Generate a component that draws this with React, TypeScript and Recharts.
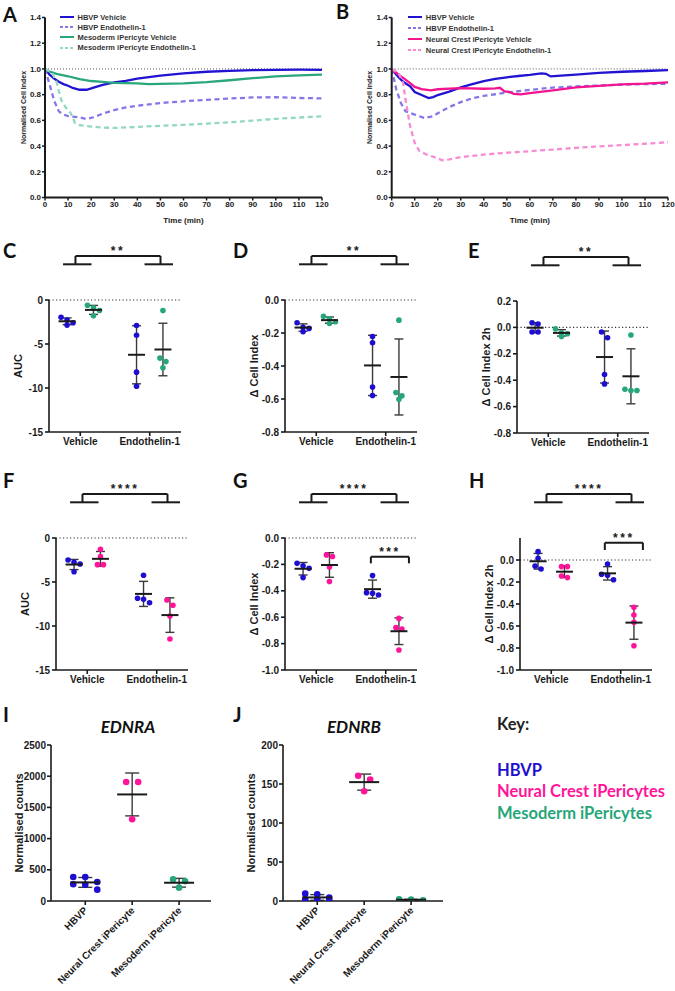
import React from "react";
import {
  LineChart,
  Line,
  ScatterChart,
  Scatter,
  XAxis,
  YAxis,
  ReferenceLine,
  ErrorBar,
  Legend,
} from "recharts";

const BLUE = "#1e0fd0";
const PINK = "#ff149a";
const GREEN = "#27a67a";
const HBVP_LINE = "#2213d2";
const HBVP_DASH = "#8577e8";
const MESO_LINE = "#2aa87c";
const MESO_DASH = "#93d8c0";
const NC_LINE = "#f2158f";
const NC_DASH = "#f78bd4";
const INK = "#1a1a1a";
const AXIS_FONT = "'Liberation Sans', Arial, sans-serif";
const TITLE_FONT = "Lato, 'Open Sans', sans-serif";

// time course axes
const TIME_TICKS = [0, 10, 20, 30, 40, 50, 60, 70, 80, 90, 100, 110, 120];
const INDEX_TICKS = [0, 0.2, 0.4, 0.6, 0.8, 1.0, 1.2, 1.4];

// panel A: [minutes, normalised cell index]
const A_HBVP_VEH: [number, number][] = [
  [0, 1], [2, 0.955], [4, 0.925], [6, 0.9], [8, 0.882], [10, 0.869], [12, 0.852], [15, 0.838],
  [18, 0.838], [20, 0.848], [25, 0.876], [30, 0.895], [35, 0.907], [40, 0.925], [45, 0.937],
  [50, 0.948], [60, 0.966], [70, 0.978], [80, 0.985], [90, 0.99], [100, 0.992], [110, 0.994], [120, 0.993],
];
const A_HBVP_ET1: [number, number][] = [
  [0, 1], [2, 0.88], [4, 0.75], [6, 0.67], [8, 0.645], [10, 0.633], [14, 0.626], [18, 0.611],
  [21, 0.624], [25, 0.652], [30, 0.68], [35, 0.7], [40, 0.714], [50, 0.735], [60, 0.748],
  [70, 0.76], [80, 0.77], [90, 0.778], [100, 0.78], [110, 0.774], [120, 0.771],
];
const A_MESO_VEH: [number, number][] = [
  [0, 1], [2, 0.98], [5, 0.962], [10, 0.943], [15, 0.92], [20, 0.906], [25, 0.9], [30, 0.892],
  [40, 0.887], [45, 0.882], [50, 0.884], [60, 0.888], [70, 0.898], [80, 0.912], [90, 0.928],
  [100, 0.942], [110, 0.95], [120, 0.956],
];
const A_MESO_ET1: [number, number][] = [
  [0, 1], [3, 0.97], [5, 0.9], [7, 0.76], [9, 0.7], [11, 0.66], [13, 0.58], [15, 0.562],
  [20, 0.552], [25, 0.544], [30, 0.541], [40, 0.549], [50, 0.558], [60, 0.565], [70, 0.575],
  [80, 0.585], [90, 0.598], [100, 0.612], [110, 0.622], [120, 0.632],
];

// panel B
const B_HBVP_VEH: [number, number][] = [
  [0, 1], [3, 0.935], [5, 0.9], [8, 0.865], [10, 0.82], [13, 0.797], [16, 0.773], [18, 0.781],
  [20, 0.797], [25, 0.823], [30, 0.857], [35, 0.882], [40, 0.905], [45, 0.922], [50, 0.935],
  [55, 0.945], [60, 0.953], [65, 0.965], [67, 0.962], [69, 0.942], [72, 0.946], [80, 0.956],
  [90, 0.97], [100, 0.978], [110, 0.984], [120, 0.99],
];
const B_HBVP_ET1: [number, number][] = [
  [0, 1], [2, 0.84], [4, 0.735], [6, 0.67], [10, 0.645], [14, 0.619], [18, 0.632], [20, 0.655],
  [25, 0.703], [30, 0.742], [35, 0.772], [40, 0.79], [45, 0.803], [50, 0.816], [60, 0.837],
  [70, 0.855], [80, 0.864], [90, 0.871], [100, 0.878], [110, 0.882], [120, 0.884],
];
const B_NC_VEH: [number, number][] = [
  [0, 1], [3, 0.955], [5, 0.93], [8, 0.89], [10, 0.86], [13, 0.843], [17, 0.833], [20, 0.842],
  [30, 0.85], [40, 0.846], [45, 0.848], [47, 0.853], [49, 0.826], [51, 0.822], [53, 0.806],
  [56, 0.802], [60, 0.812], [70, 0.833], [80, 0.857], [90, 0.868], [100, 0.88], [110, 0.885], [120, 0.895],
];
const B_NC_ET1: [number, number][] = [
  [0, 1], [3, 0.967], [5, 0.89], [6, 0.76], [8, 0.555], [10, 0.425], [12, 0.362], [15, 0.335],
  [18, 0.317], [22, 0.29], [25, 0.296], [30, 0.314], [40, 0.334], [50, 0.348], [60, 0.36],
  [70, 0.373], [80, 0.386], [90, 0.398], [100, 0.407], [110, 0.418], [120, 0.43],
];

// dot plots: conditions and per-well values
const CONDITIONS = ["Vehicle", "Endothelin-1"];
const CELL_TYPES = ["HBVP", "Neural Crest iPericyte", "Mesoderm iPericyte"];

const C_VEH_HBVP = [-1.97, -2.28, -2.58, -2.85];
const C_VEH_MESO = [-0.6, -0.9, -1.2, -1.8];
const C_ET1_HBVP = [-2.9, -4.0, -8.2, -9.8];
const C_ET1_MESO = [-1.2, -6.6, -7.0, -7.7];

const D_VEH_HBVP = [-0.138, -0.166, -0.172, -0.192];
const D_VEH_MESO = [-0.099, -0.115, -0.132, -0.142];
const D_ET1_HBVP = [-0.221, -0.259, -0.527, -0.579];
const D_ET1_MESO = [-0.122, -0.561, -0.581, -0.602];

const E_VEH_HBVP = [0.035, 0.025, -0.035, -0.035];
const E_VEH_MESO = [-0.01, -0.04, -0.048, -0.068];
const E_ET1_HBVP = [-0.035, -0.078, -0.357, -0.428];
const E_ET1_MESO = [-0.058, -0.468, -0.478, -0.478];

const F_VEH_HBVP = [-2.5, -2.77, -2.95, -3.83];
const F_VEH_NC = [-1.29, -2.12, -3.03, -3.03];
const F_ET1_HBVP = [-4.24, -6.85, -6.97, -7.35];
const F_ET1_NC = [-7.05, -7.65, -8.86, -11.48];

const G_VEH_HBVP = [-0.192, -0.21, -0.23, -0.3];
const G_VEH_NC = [-0.128, -0.14, -0.22, -0.33];
const G_ET1_HBVP = [-0.285, -0.414, -0.419, -0.432];
const G_ET1_NC = [-0.609, -0.679, -0.689, -0.848];

const H_VEH_HBVP = [0.076, 0.015, -0.055, -0.082];
const H_VEH_NC = [-0.06, -0.06, -0.145, -0.16];
const H_ET1_HBVP = [-0.036, -0.13, -0.139, -0.18];
const H_ET1_NC = [-0.43, -0.5, -0.567, -0.78];

const I_HBVP = [385, 385, 305, 268, 262, 182];
const I_NC = [1906, 1906, 1311];
const I_MESO = [348, 316, 214];

const J_HBVP = [9.4, 8.6, 4.3, 2.1, 2.1, 0.9];
const J_NC = [160.6, 155.8, 140.8];
const J_MESO = [2.1, 1.7, 0.9];

type Series = { name: string; pts: [number, number][]; color: string; dashed?: boolean };
type Group = { center: number; values: number[]; color: string };
type Bracket = { x1: number; x2: number; yTop: number; yDrop: number; stars: string };

const SERIES_A: Series[] = [
  { name: "HBVP Vehicle", pts: A_HBVP_VEH, color: HBVP_LINE },
  { name: "HBVP Endothelin-1", pts: A_HBVP_ET1, color: HBVP_DASH, dashed: true },
  { name: "Mesoderm iPericyte Vehicle", pts: A_MESO_VEH, color: MESO_LINE },
  { name: "Mesoderm iPericyte Endothelin-1", pts: A_MESO_ET1, color: MESO_DASH, dashed: true },
];
const SERIES_B: Series[] = [
  { name: "HBVP Vehicle", pts: B_HBVP_VEH, color: HBVP_LINE },
  { name: "HBVP Endothelin-1", pts: B_HBVP_ET1, color: HBVP_DASH, dashed: true },
  { name: "Neural Crest iPericyte Vehicle", pts: B_NC_VEH, color: NC_LINE },
  { name: "Neural Crest iPericyte Endothelin-1", pts: B_NC_ET1, color: NC_DASH, dashed: true },
];

const tickStyle = (size: number) => ({ fontSize: size, fontWeight: 700, fill: INK, fontFamily: AXIS_FONT });

function yTitle(text: string, gap: number, size: number) {
  return (props: any) => {
    const vb = props.viewBox;
    const x = vb.x + vb.width - gap;
    const y = vb.y + vb.height / 2;
    return (
      <text x={x} y={y} transform={`rotate(-90 ${x} ${y})`} textAnchor="middle" dominantBaseline="central"
        style={tickStyle(size)}>
        {text}
      </text>
    );
  };
}

function meanSd(values: number[]) {
  const m = values.reduce((s, v) => s + v, 0) / values.length;
  const v = values.reduce((s, x) => s + (x - m) * (x - m), 0) / (values.length - 1);
  return { mean: m, sd: Math.sqrt(v) };
}

// spread points that sit at about the same height side by side
function swarm(values: number[], center: number, pxY: number, pxX: number, step: number, rowGap: number) {
  const sorted = [...values].sort((a, b) => b - a);
  const rows: number[][] = [];
  sorted.forEach((v) => {
    const row = rows[rows.length - 1];
    if (row && (row[0] - v) * pxY < rowGap) row.push(v);
    else rows.push([v]);
  });
  const out: { x: number; y: number }[] = [];
  rows.forEach((row) =>
    row.forEach((v, i) => out.push({ x: center + ((i - (row.length - 1) / 2) * step) / pxX, y: v }))
  );
  return out;
}

function LinePanel({ left, axisW, right, series, legendLeft, legendRow, titleGap }: {
  left: number; axisW: number; right: number; series: Series[]; legendLeft: number; legendRow: number; titleGap: number;
}) {
  return (
    <div style={{ position: "absolute", left, top: 0 }}>
      <LineChart width={330} height={226} margin={{ top: 17.5, right, bottom: 0, left: 0 }}>
        <XAxis type="number" dataKey="t" domain={[0, 120]} ticks={TIME_TICKS} allowDataOverflow interval={0}
          height={28.5} tickSize={3} tickMargin={1}
          axisLine={{ stroke: INK, strokeWidth: 2 }} tickLine={{ stroke: INK, strokeWidth: 1.5 }} tick={tickStyle(8)}
          label={{ value: "Time (min)", position: "insideBottom", offset: 3, ...tickStyle(8) }} />
        <YAxis type="number" domain={[0, 1.4]} ticks={INDEX_TICKS} allowDataOverflow interval={0} width={axisW}
          tickSize={3} tickMargin={1} tickFormatter={(v: number) => v.toFixed(1)}
          axisLine={{ stroke: INK, strokeWidth: 2 }} tickLine={{ stroke: INK, strokeWidth: 1.5 }} tick={tickStyle(8)}
          label={yTitle("Normalised Cell Index", titleGap, 7)} />
        <ReferenceLine y={1} stroke="#555" strokeDasharray="1 2" strokeWidth={1} />
        {series.map((s) => (
          <Line key={s.name} name={s.name} data={s.pts.map(([t, v]) => ({ t, v }))} dataKey="v" type="linear"
            stroke={s.color} strokeWidth={2.3} strokeDasharray={s.dashed ? "5 3.5" : undefined}
            dot={false} activeDot={false} isAnimationActive={false} />
        ))}
        <Legend layout="vertical" align="center" verticalAlign="middle"
          wrapperStyle={{ left: legendLeft, top: 17.3 - legendRow / 2, width: "auto", height: "auto" }}
          content={() => (
            <div>
              {series.map((s) => (
                <div key={s.name} style={{ display: "flex", alignItems: "center", height: legendRow }}>
                  <svg width={14} height={6}>
                    <line x1={0} y1={3} x2={14} y2={3} stroke={s.color} strokeWidth={2}
                      strokeDasharray={s.dashed ? "3 2" : undefined} />
                  </svg>
                  <span style={{ marginLeft: 3.5, fontSize: 7.5, fontWeight: 700, color: "#333", fontFamily: AXIS_FONT, whiteSpace: "nowrap" }}>
                    {s.name}
                  </span>
                </div>
              ))}
            </div>
          )} />
      </LineChart>
    </div>
  );
}

const X_DOM: [number, number] = [0.55, 2.45];
const PLOT_W = 132;
const PLOT_H = 132;

function DotPanel({ plotLeft, plotTop, domain, ticks, fmt, title, groups, brackets }: {
  plotLeft: number; plotTop: number; domain: [number, number]; ticks: number[]; fmt: (v: number) => string;
  title: string; groups: Group[]; brackets: Bracket[];
}) {
  const pxX = PLOT_W / (X_DOM[1] - X_DOM[0]);
  const pxY = PLOT_H / (domain[1] - domain[0]);
  const shortY = domain[1] + 35.7 / pxY;
  const seg = (key: string, x1: number, y1: number, x2: number, y2: number, stars?: string) => (
    <ReferenceLine key={key} segment={[{ x: x1, y: y1 }, { x: x2, y: y2 }]} stroke={INK} strokeWidth={2}
      ifOverflow="visible"
      label={stars ? { value: stars, position: "top", offset: 1, ...tickStyle(12), letterSpacing: 2.5 } : undefined} />
  );
  return (
    <div style={{ position: "absolute", left: plotLeft - 50, top: plotTop - 62 }}>
      <ScatterChart width={50 + PLOT_W + 10} height={62 + PLOT_H + 30} margin={{ top: 62, right: 10, bottom: 8, left: 0 }}>
        <XAxis type="number" dataKey="x" domain={X_DOM} ticks={[1, 2]} allowDataOverflow interval={0} height={22}
          tickSize={4} tickMargin={2} tickFormatter={(v: number) => CONDITIONS[v - 1]}
          axisLine={{ stroke: INK, strokeWidth: 1.6 }} tickLine={{ stroke: INK, strokeWidth: 1.6 }} tick={tickStyle(10)} />
        <YAxis type="number" dataKey="y" domain={domain} ticks={ticks} allowDataOverflow interval={0} width={50}
          tickSize={4} tickMargin={2} tickFormatter={fmt}
          axisLine={{ stroke: INK, strokeWidth: 1.6 }} tickLine={{ stroke: INK, strokeWidth: 1.6 }} tick={tickStyle(10)}
          label={yTitle(title, 31, 11)} />
        <ReferenceLine y={0} stroke="#333" strokeDasharray="1.2 2.3" strokeWidth={1.2} />
        {groups.map((g, i) => (
          <Scatter key={`p${i}`} data={swarm(g.values, g.center, pxY, pxX, 6, 6)} isAnimationActive={false}
            shape={(p: any) => <circle cx={p.cx} cy={p.cy} r={2.8} fill={g.color} />} />
        ))}
        {groups.map((g, i) => {
          const { mean, sd } = meanSd(g.values);
          return (
            <Scatter key={`m${i}`} data={[{ x: g.center, y: mean, sd }]} isAnimationActive={false}
              shape={(p: any) => <line x1={p.cx - 8.5} x2={p.cx + 8.5} y1={p.cy} y2={p.cy} stroke={INK} strokeWidth={2} />}>
              <ErrorBar dataKey="sd" direction="y" width={4.5} stroke="#3a3a3a" strokeWidth={1.4} isAnimationActive={false} />
            </Scatter>
          );
        })}
        {brackets.map((b, i) => [
          seg(`t${i}`, b.x1, b.yTop, b.x2, b.yTop, b.stars),
          seg(`l${i}`, b.x1, b.yTop, b.x1, b.yDrop),
          seg(`r${i}`, b.x2, b.yTop, b.x2, b.yDrop),
        ])}
        {/* short bars under the group comparison bracket */}
        {seg("s1", 0.752, shortY, 1.162, shortY)}
        {seg("s2", 1.925, shortY, 2.335, shortY)}
      </ScatterChart>
    </div>
  );
}

function mainBracket(domain: [number, number], stars: string): Bracket {
  const pxY = PLOT_H / (domain[1] - domain[0]);
  return { x1: 0.931, x2: 2.155, yTop: domain[1] + 44 / pxY, yDrop: domain[1] + 35.7 / pxY, stars };
}

const I_DOM: [number, number] = [0.27, 3.68];

function CountPanel({ plotLeft, domain, ticks, groups, rowGap }: {
  plotLeft: number; domain: [number, number]; ticks: number[]; groups: Group[]; rowGap: number;
}) {
  const plotW = 160;
  const plotH = 156;
  const pxX = plotW / (I_DOM[1] - I_DOM[0]);
  const pxY = plotH / (domain[1] - domain[0]);
  const slant = (p: any) => {
    const x = p.x + 3;
    const y = p.y + 4;
    return (
      <text x={x} y={y} transform={`rotate(-45 ${x} ${y})`} textAnchor="end" style={tickStyle(10)}>
        {CELL_TYPES[p.payload.value - 1]}
      </text>
    );
  };
  return (
    <div style={{ position: "absolute", left: plotLeft - 50, top: 735 }}>
      <ScatterChart width={50 + plotW + 10} height={256} margin={{ top: 10, right: 10, bottom: 10, left: 0 }}>
        <XAxis type="number" dataKey="x" domain={I_DOM} ticks={[1, 2, 3]} allowDataOverflow interval={0} height={80}
          tickSize={4} tickMargin={2} tick={slant}
          axisLine={{ stroke: INK, strokeWidth: 1.6 }} tickLine={{ stroke: INK, strokeWidth: 1.6 }} />
        <YAxis type="number" dataKey="y" domain={domain} ticks={ticks} allowDataOverflow interval={0} width={50}
          tickSize={4} tickMargin={1}
          axisLine={{ stroke: INK, strokeWidth: 1.6 }} tickLine={{ stroke: INK, strokeWidth: 1.6 }} tick={tickStyle(10)}
          label={yTitle("Normalised counts", 32, 11)} />
        {groups.map((g, i) => (
          <Scatter key={`p${i}`} data={swarm(g.values, g.center, pxY, pxX, 12, rowGap)} isAnimationActive={false}
            shape={(p: any) => <circle cx={p.cx} cy={p.cy} r={3.3} fill={g.color} />} />
        ))}
        {groups.map((g, i) => {
          const { mean, sd } = meanSd(g.values);
          return (
            <Scatter key={`m${i}`} data={[{ x: g.center, y: mean, sd }]} isAnimationActive={false}
              shape={(p: any) => <line x1={p.cx - 15} x2={p.cx + 15} y1={p.cy} y2={p.cy} stroke={INK} strokeWidth={2} />}>
              <ErrorBar dataKey="sd" direction="y" width={7} stroke="#3a3a3a" strokeWidth={1.4} isAnimationActive={false} />
            </Scatter>
          );
        })}
      </ScatterChart>
    </div>
  );
}

const fmt1 = (v: number) => v.toFixed(1);
const fmt0 = (v: number) => String(v);

export default function App() {
  const groupsOf = (vA: number[], vB: number[], eA: number[], eB: number[], colB: string): Group[] => [
    { center: 0.81, values: vA, color: BLUE },
    { center: 1.19, values: vB, color: colB },
    { center: 1.81, values: eA, color: BLUE },
    { center: 2.19, values: eB, color: colB },
  ];
  const domC: [number, number] = [-15, 0];
  const domD: [number, number] = [-0.8, 0];
  const domE: [number, number] = [-0.8, 0.2];
  const domG: [number, number] = [-1, 0];
  const domH: [number, number] = [-1, 0.2];
  const letter = { fontFamily: TITLE_FONT, fontWeight: 700, fontSize: 20, fill: "#111" };
  const key = { fontFamily: TITLE_FONT, fontWeight: 700, fontSize: 16.5 };
  return (
    <div style={{ position: "absolute", left: 0, top: 0, width: 675, height: 991, background: "#fff", overflow: "hidden" }}>
      <LinePanel left={0} axisW={45} right={8} series={SERIES_A} legendLeft={60} legendRow={10.1} titleGap={22} />
      <LinePanel left={345} axisW={46.7} right={7} series={SERIES_B} legendLeft={63.3} legendRow={11} titleGap={22.7} />

      <DotPanel plotLeft={49} plotTop={300} domain={domC} ticks={[-15, -10, -5, 0]} fmt={fmt0} title="AUC"
        groups={groupsOf(C_VEH_HBVP, C_VEH_MESO, C_ET1_HBVP, C_ET1_MESO, GREEN)} brackets={[mainBracket(domC, "**")]} />
      <DotPanel plotLeft={285} plotTop={300} domain={domD} ticks={[-0.8, -0.6, -0.4, -0.2, 0]} fmt={fmt1} title="Δ Cell Index"
        groups={groupsOf(D_VEH_HBVP, D_VEH_MESO, D_ET1_HBVP, D_ET1_MESO, GREEN)} brackets={[mainBracket(domD, "**")]} />
      <DotPanel plotLeft={516.7} plotTop={300.5} domain={domE} ticks={[-0.8, -0.6, -0.4, -0.2, 0, 0.2]} fmt={fmt1} title="Δ Cell Index 2h"
        groups={groupsOf(E_VEH_HBVP, E_VEH_MESO, E_ET1_HBVP, E_ET1_MESO, GREEN)} brackets={[mainBracket(domE, "**")]} />

      <DotPanel plotLeft={56} plotTop={538} domain={domC} ticks={[-15, -10, -5, 0]} fmt={fmt0} title="AUC"
        groups={groupsOf(F_VEH_HBVP, F_VEH_NC, F_ET1_HBVP, F_ET1_NC, PINK)} brackets={[mainBracket(domC, "****")]} />
      <DotPanel plotLeft={285} plotTop={538} domain={domG} ticks={[-1, -0.8, -0.6, -0.4, -0.2, 0]} fmt={fmt1} title="Δ Cell Index"
        groups={groupsOf(G_VEH_HBVP, G_VEH_NC, G_ET1_HBVP, G_ET1_NC, PINK)}
        brackets={[mainBracket(domG, "****"), { x1: 1.786, x2: 2.334, yTop: -0.142, yDrop: -0.192, stars: "***" }]} />
      <DotPanel plotLeft={520} plotTop={538.3} domain={domH} ticks={[-1, -0.8, -0.6, -0.4, -0.2, 0]} fmt={fmt1} title="Δ Cell Index 2h"
        groups={groupsOf(H_VEH_HBVP, H_VEH_NC, H_ET1_HBVP, H_ET1_NC, PINK)}
        brackets={[mainBracket(domH, "****"), { x1: 1.771, x2: 2.319, yTop: 0.157, yDrop: 0.091, stars: "***" }]} />

      <CountPanel plotLeft={50.7} domain={[0, 2500]} ticks={[0, 500, 1000, 1500, 2000, 2500]} rowGap={7}
        groups={[
          { center: 1, values: I_HBVP, color: BLUE },
          { center: 2, values: I_NC, color: PINK },
          { center: 3, values: I_MESO, color: GREEN },
        ]} />
      <CountPanel plotLeft={283.3} domain={[0, 200]} ticks={[0, 50, 100, 150, 200]} rowGap={4.9}
        groups={[
          { center: 1, values: J_HBVP, color: BLUE },
          { center: 2, values: J_NC, color: PINK },
          { center: 3, values: J_MESO, color: GREEN },
        ]} />

      <svg width={675} height={991} style={{ position: "absolute", left: 0, top: 0, pointerEvents: "none" }}>
        <text x={3} y={21.7} style={letter}>A</text>
        <text x={336} y={18.5} style={letter}>B</text>
        <text x={3} y={258.3} style={letter}>C</text>
        <text x={233} y={258.3} style={letter}>D</text>
        <text x={468} y={258.3} style={letter}>E</text>
        <text x={3} y={488.3} style={letter}>F</text>
        <text x={233} y={488.3} style={letter}>G</text>
        <text x={469} y={488.3} style={letter}>H</text>
        <text x={3} y={721.7} style={letter}>I</text>
        <text x={233} y={721.7} style={letter}>J</text>
        <text x={128} y={732.7} textAnchor="middle" style={{ ...letter, fontSize: 17, fontStyle: "italic" }}>EDNRA</text>
        <text x={354} y={732.7} textAnchor="middle" style={{ ...letter, fontSize: 17, fontStyle: "italic" }}>EDNRB</text>
        <text x={497} y={730} style={{ ...key, fill: "#222" }}>Key:</text>
        <text x={497} y={775.5} style={{ ...key, fill: BLUE }}>HBVP</text>
        <text x={497} y={797} style={{ ...key, fill: PINK }}>Neural Crest iPericytes</text>
        <text x={497} y={818.5} style={{ ...key, fill: GREEN }}>Mesoderm iPericytes</text>
      </svg>
    </div>
  );
}
